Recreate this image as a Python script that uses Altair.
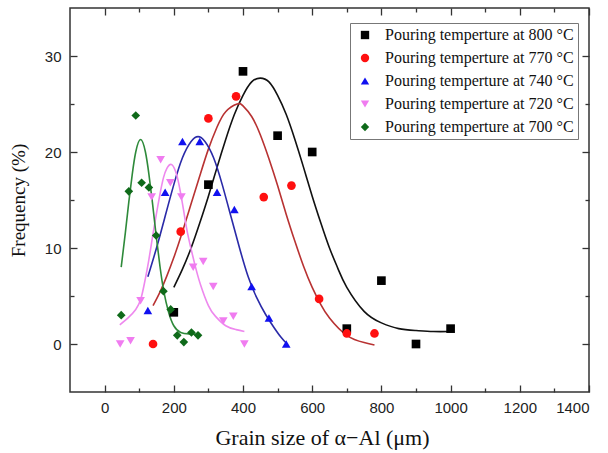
import altair as alt
import pandas as pd

# ---------------- data ----------------
series = [
    "Pouring temperture at 800 °C",
    "Pouring temperture at 770 °C",
    "Pouring temperture at 740 °C",
    "Pouring temperture at 720 °C",
    "Pouring temperture at 700 °C",
]
point_colors = ["#000000", "#ff1010", "#1010f0", "#f07cf0", "#0f6a1a"]
line_colors = ["#111111", "#b83232", "#2a2aa8", "#ee88ee", "#2e8a3a"]
shapes = ["square", "circle", "triangle-up", "triangle-down", "diamond"]

# measured points
x800 = [200, 300, 400, 500, 600, 700, 800, 900, 1000]
y800 = [3.3, 16.6, 28.4, 21.7, 20.0, 1.6, 6.6, 0.0, 1.6]
x770 = [140, 220, 300, 380, 460, 540, 620, 700, 780]
y770 = [0.0, 11.7, 23.5, 25.8, 15.3, 16.5, 4.7, 1.1, 1.1]
x740 = [125, 175, 225, 275, 325, 375, 425, 475, 525]
y740 = [3.5, 15.8, 21.1, 21.1, 15.8, 14.0, 6.0, 2.7, 0.0]
x720 = [45, 75, 104, 136, 162, 190, 222, 256, 285, 314, 343, 372, 404]
y720 = [0.0, 0.35, 4.5, 15.3, 19.2, 16.8, 15.3, 8.0, 8.6, 6.0, 2.4, 2.9, 0.0]
x700 = [48, 70, 90, 107, 128, 149, 170, 191, 210, 229, 251, 270]
y700 = [3.0, 15.9, 23.8, 16.8, 16.3, 11.3, 5.5, 3.6, 0.9, 0.2, 1.2, 0.9]

# fitted curves
cx800 = [200, 225, 250, 275, 300, 325, 350, 375, 400, 425, 450, 475, 500, 525,
         550, 575, 600, 625, 650, 675, 700, 750, 800, 850, 900, 950, 1000]
cy800 = [5.9, 7.8, 10.0, 12.6, 15.4, 18.4, 21.3, 23.9, 25.9, 27.3, 27.7, 27.3,
         25.9, 23.9, 21.3, 18.4, 15.4, 12.6, 10.0, 7.8, 5.9, 3.4, 2.2, 1.6, 1.4, 1.3, 1.3]
cx770 = [140, 160, 180, 200, 225, 250, 275, 300, 325, 350, 383, 400, 425, 450,
         475, 500, 525, 550, 575, 600, 625, 650, 700, 750, 780]
cy770 = [4.0, 5.4, 7.1, 9.0, 11.7, 14.6, 17.5, 20.3, 22.6, 24.2, 25.0, 24.8, 23.7,
         21.8, 19.3, 16.5, 13.5, 10.7, 8.1, 5.9, 4.1, 2.7, 0.9, 0.15, -0.1]
cx740 = [125, 150, 175, 200, 225, 250, 270, 290, 315, 340, 365, 390, 415, 440,
         465, 490, 510, 526]
cy740 = [7.0, 10.0, 13.3, 16.6, 19.4, 21.1, 21.6, 21.1, 19.4, 16.6, 13.3, 10.0,
         7.0, 4.8, 3.1, 1.7, 0.7, 0.05]
cx720 = [44, 70, 90, 104, 115, 128, 140, 150, 160, 170, 180, 193, 205, 215, 228,
         240, 260, 277, 300, 320, 350, 380, 404]
cy720 = [2.0, 2.8, 3.6, 4.6, 6.3, 8.8, 11.5, 13.6, 15.6, 17.3, 18.3, 18.7, 18.0,
         16.6, 14.0, 11.5, 8.4, 6.2, 4.0, 2.9, 1.9, 1.5, 1.3]
cx700 = [48, 60, 70, 80, 90, 104, 118, 128, 138, 149, 160, 171, 185, 200, 220, 245, 270]
cy700 = [8.0, 11.6, 14.8, 17.7, 20.0, 21.3, 20.0, 17.7, 14.8, 11.3, 8.1, 5.5, 3.3,
         1.9, 1.2, 1.05, 1.0]

x_ticks = [0, 100, 200, 300, 400, 500, 600, 700, 800, 900, 1000, 1100, 1200, 1300, 1400]
y_ticks = [0, 5, 10, 15, 20, 25, 30]

# ---------------- tables ----------------
pts = []
for s, xs, ys in zip(series, [x800, x770, x740, x720, x700], [y800, y770, y740, y720, y700]):
    for a, b in zip(xs, ys):
        pts.append({"series": s, "x": a, "y": b})
pts = pd.DataFrame(pts)

crv = []
for s, xs, ys in zip(series, [cx800, cx770, cx740, cx720, cx700],
                     [cy800, cy770, cy740, cy720, cy700]):
    for i, (a, b) in enumerate(zip(xs, ys)):
        crv.append({"series": s, "x": a, "y": b, "i": i})
crv = pd.DataFrame(crv)

xscale = alt.Scale(domain=[-100, 1400], nice=False, zero=False)
yscale = alt.Scale(domain=[-5, 35], nice=False, zero=False)

tick_x = {"condition": {"test": "datum.value % 200 === 0", "value": -7}, "value": -4}
tick_y = {"condition": {"test": "datum.value % 10 === 0", "value": -7}, "value": -4}

# mirror ticks on top / right (invisible marks)
mirror = alt.Chart(pts).mark_point(opacity=0).encode(
    x=alt.X("x:Q", scale=xscale,
            axis=alt.Axis(orient="top", values=x_ticks, labels=False, title=None,
                          tickSize=tick_x, tickColor="#333", tickWidth=1.3, domain=False, grid=False)),
    y=alt.Y("y:Q", scale=yscale,
            axis=alt.Axis(orient="right", values=y_ticks, labels=False, title=None,
                          tickSize=tick_y, tickColor="#333", tickWidth=1.3, domain=False, grid=False)),
)

line_layers = []
for s, c in zip(series, line_colors):
    line_layers.append(
        alt.Chart(crv).transform_filter(alt.datum.series == s)
        .mark_line(strokeWidth=1.6, interpolate="natural", color=c, clip=True)
        .encode(x=alt.X("x:Q", scale=xscale, axis=None),
                y=alt.Y("y:Q", scale=yscale, axis=None),
                order="i:Q")
    )

leg = alt.Legend(title=None, orient="none", legendX=280, legendY=15,
                 labelFont="Liberation Serif", labelFontSize=16,
                 labelColor="#111", labelLimit=400,
                 strokeColor="#777", fillColor="white", padding=4,
                 rowPadding=7, symbolSize=70, labelOffset=12,
                 symbolOffset=3, symbolStrokeWidth=0)

points = alt.Chart(pts).mark_point(filled=True, size=75, opacity=1).encode(
    x=alt.X("x:Q", scale=xscale,
            axis=alt.Axis(orient="bottom", values=x_ticks, format="d",
                          labelExpr="datum.value % 200 === 0 ? datum.label : ''",
                          title="Grain size of α−Al (μm)",
                          tickSize=tick_x, tickColor="#333", tickWidth=1.3, domain=False, grid=False,
                          labelPadding=15, labelFontSize=15, labelFont="Liberation Sans",
                          labelColor="#222",
                          titleFont="Liberation Serif", titleFontSize=22, titleFontWeight="normal",
                          titleColor="#111", titleX=252, titleY=45, titleBaseline="middle",
                          titleAlign="center")),
    y=alt.Y("y:Q", scale=yscale,
            axis=alt.Axis(orient="left", values=y_ticks, format="d",
                          labelExpr="datum.value % 10 === 0 ? datum.label : ''",
                          title="Frequency (%)",
                          tickSize=tick_y, tickColor="#333", tickWidth=1.3, domain=False, grid=False,
                          labelPadding=16, labelFontSize=15, labelFont="Liberation Sans",
                          labelColor="#222",
                          titleFont="Liberation Serif", titleFontSize=19, titleFontWeight="normal",
                          titleColor="#111", titleX=-52, titleY=192, titleAngle=-90,
                          titleBaseline="middle", titleAlign="center")),
    color=alt.Color("series:N", scale=alt.Scale(domain=series, range=point_colors), legend=leg),
    shape=alt.Shape("series:N", scale=alt.Scale(domain=series, range=shapes), legend=leg),
)

chart = alt.layer(mirror, *line_layers, points).resolve_axis(
    x="independent", y="independent"
).properties(
    width=519, height=384,
    autosize=alt.AutoSizeParams(type="none"),
    padding={"left": 70, "top": 8, "right": 19, "bottom": 61},
    background="white",
).configure_view(stroke="#333", strokeWidth=1.5)

chart.save("out.html", embed_options={"renderer": "svg", "actions": False})
